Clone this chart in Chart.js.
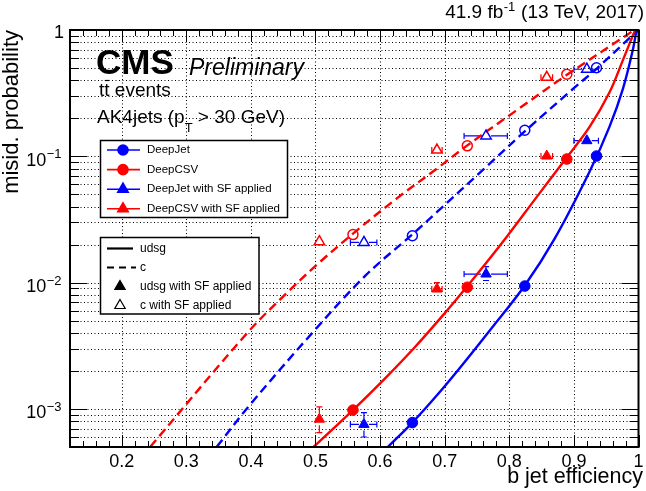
<!DOCTYPE html>
<html><head><meta charset="utf-8">
<script src="https://cdn.jsdelivr.net/npm/chart.js@4/dist/chart.umd.min.js"></script>
<style>html,body{margin:0;padding:0;background:#fff;overflow:hidden}</style>
</head><body>
<canvas id="c" width="646" height="491"></canvas>
<script>
// ---- axis ticks ----
const xTickValues = [0.2,0.3,0.4,0.5,0.6,0.7,0.8,0.9,1.0];
const xTickLabels = ['0.2','0.3','0.4','0.5','0.6','0.7','0.8','0.9','1'];
const yTickValues = [1e-3,1e-2,1e-1,1];
const yTickExponents = ['\u22123','\u22122','\u22121',''];

// ---- working points (b-jet efficiency, misid. probability) ----
const effDeepJet   = [0.650, 0.824, 0.935];
const udsgDeepJet  = [7.8e-4, 9.4e-3, 0.1005];
const cDeepJet     = [0.0235, 0.161, 0.503];
const effDeepCSV   = [0.558, 0.735, 0.889];
const udsgDeepCSV  = [9.8e-4, 9.2e-3, 0.0952];
const cDeepCSV     = [0.0240, 0.121, 0.446];

// ---- with SF applied ----
const effDeepJetSF    = [0.575, 0.764, 0.920];
const effDeepJetSFLo  = [0.554, 0.730, 0.900];
const effDeepJetSFHi  = [0.595, 0.797, 0.938];
const udsgDeepJetSF   = [7.55e-4, 0.0117, 0.133];
const udsgDeepJetSFLo = [6.0e-4, 0.0104, 0.127];
const udsgDeepJetSFHi = [9.35e-4, 0.0134, 0.139];
const cDeepJetSF      = [0.0208, 0.145, 0.489];
const cDeepJetSFLo    = [0.0201, 0.141, 0.478];
const cDeepJetSFHi    = [0.0215, 0.149, 0.500];

const effDeepCSVSF    = [0.506, 0.688, 0.858];
const effDeepCSVSFLo  = [0.499, 0.680, 0.849];
const effDeepCSVSFHi  = [0.513, 0.696, 0.867];
const udsgDeepCSVSF   = [8.3e-4, 8.9e-3, 0.1005];
const udsgDeepCSVSFLo = [6.5e-4, 7.98e-3, 0.096];
const udsgDeepCSVSFHi = [1.04e-3, 1.0e-2, 0.105];
const cDeepCSVSF      = [0.0211, 0.112, 0.422];
const cDeepCSVSFLo    = [0.0203, 0.108, 0.410];
const cDeepCSVSFHi    = [0.0219, 0.116, 0.434];

// ---- ROC curves ----
const curveDeepCSVudsgX = [0.497,0.558,0.607,0.653,0.699,0.735,0.765,0.797,0.842,0.888,0.924,0.955,0.976,0.991,0.995];
const curveDeepCSVudsgY = [5.0e-4,9.8e-4,1.73e-3,3.05e-3,5.65e-3,9.38e-3,1.449e-2,2.34e-2,4.73e-2,9.65e-2,0.17,0.32,0.58,0.9,1.0];
const curveDeepJetudsgX = [0.612,0.650,0.689,0.724,0.771,0.824,0.870,0.924,0.955,0.976,0.991,0.997];
const curveDeepJetudsgY = [5.0e-4,7.8e-4,1.30e-3,2.13e-3,4.26e-3,9.5e-3,2.22e-2,7.52e-2,0.171,0.344,0.687,1.0];
const curveDeepCSVcX = [0.244,0.395,0.451,0.502,0.559,0.627,0.689,0.734,0.810,0.888,0.981,0.993];
const curveDeepCSVcY = [5.0e-4,4.03e-3,7.87e-3,1.384e-2,2.466e-2,4.69e-2,8.07e-2,0.121,0.229,0.4375,0.906,1.0];
const curveDeepJetcX = [0.347,0.396,0.4965,0.578,0.649,0.689,0.760,0.823,0.899,0.935,0.990,1.0];
const curveDeepJetcY = [5.0e-4,1.04e-3,4.08e-3,1.146e-2,2.39e-2,3.66e-2,7.88e-2,0.156,0.343,0.493,0.9,1.0];

const BLUE = '#0000ff', RED = '#ff0000';
const FONT = '"Liberation Sans", Arial, Helvetica, sans-serif';
const MARK_R = 6;

function pts(xs, ys){ return xs.map((x,i)=>({x:x, y:ys[i]})); }

function markerSet(xs, ys, color, style, filled, r){
  return {type:'scatter', data: pts(xs, ys), showLine:false,
    pointStyle: style, pointRadius: r, pointHoverRadius: r,
    pointBackgroundColor: filled ? color : 'rgba(0,0,0,0)',
    pointBorderColor: color, pointBorderWidth: filled ? 1 : 1.5};
}
function curveSet(xs, ys, color, dashed){
  return {type:'line', data: pts(xs, ys), showLine:true, fill:false,
    borderColor: color, borderWidth: 2.4, borderDash: dashed ? [9,5] : [],
    pointRadius: 0, pointHoverRadius: 0, tension: 0.35};
}

const errorSeries = [
  {x:effDeepJetSF, xl:effDeepJetSFLo, xh:effDeepJetSFHi, y:udsgDeepJetSF, yl:udsgDeepJetSFLo, yh:udsgDeepJetSFHi, c:BLUE},
  {x:effDeepJetSF, xl:effDeepJetSFLo, xh:effDeepJetSFHi, y:cDeepJetSF, yl:cDeepJetSFLo, yh:cDeepJetSFHi, c:BLUE},
  {x:effDeepCSVSF, xl:effDeepCSVSFLo, xh:effDeepCSVSFHi, y:udsgDeepCSVSF, yl:udsgDeepCSVSFLo, yh:udsgDeepCSVSFHi, c:RED},
  {x:effDeepCSVSF, xl:effDeepCSVSFLo, xh:effDeepCSVSFHi, y:cDeepCSVSF, yl:cDeepCSVSFLo, yh:cDeepCSVSFHi, c:RED}
];

const decorations = {
  id:'decorations',
  beforeDraw(chart){
    const ctx = chart.ctx;
    ctx.save(); ctx.fillStyle='#fff'; ctx.fillRect(0,0,chart.width,chart.height); ctx.restore();
  },
  beforeDatasetsDraw(chart){
    const ctx = chart.ctx, a = chart.chartArea, xs = chart.scales.x, ys = chart.scales.y;
    ctx.save();
    ctx.strokeStyle = '#000'; ctx.lineWidth = 1; ctx.setLineDash([1,2.5]);
    xTickValues.forEach(v=>{
      if (v >= xs.max) return;
      const px = Math.round(xs.getPixelForValue(v))+0.5;
      ctx.beginPath(); ctx.moveTo(px,a.top); ctx.lineTo(px,a.bottom); ctx.stroke();
    });
    for (let k=-4;k<=0;k++){
      for (let m=1;m<=9;m++){
        const v = m*Math.pow(10,k);
        if (v <= ys.min || v >= ys.max) continue;
        const py = Math.round(ys.getPixelForValue(v))+0.5;
        ctx.beginPath(); ctx.moveTo(a.left,py); ctx.lineTo(a.right,py); ctx.stroke();
      }
    }
    ctx.setLineDash([]);
    // error bars (only the parts outside the marker)
    const cap = 3;
    errorSeries.forEach(s=>{
      ctx.strokeStyle = s.c; ctx.lineWidth = 1.2;
      s.x.forEach((xv,i)=>{
        const px = xs.getPixelForValue(xv), py = ys.getPixelForValue(s.y[i]);
        const x1 = xs.getPixelForValue(s.xl[i]), x2 = xs.getPixelForValue(s.xh[i]);
        const yLo = ys.getPixelForValue(s.yl[i]), yHi = ys.getPixelForValue(s.yh[i]);
        ctx.beginPath();
        if (px - x1 > MARK_R-1){ ctx.moveTo(x1,py); ctx.lineTo(px-MARK_R+1,py); ctx.moveTo(x1,py-cap); ctx.lineTo(x1,py+cap); }
        if (x2 - px > MARK_R-1){ ctx.moveTo(px+MARK_R-1,py); ctx.lineTo(x2,py); ctx.moveTo(x2,py-cap); ctx.lineTo(x2,py+cap); }
        if (yLo - py > MARK_R){ ctx.moveTo(px,py+MARK_R); ctx.lineTo(px,yLo); ctx.moveTo(px-cap,yLo); ctx.lineTo(px+cap,yLo); }
        if (py - yHi > MARK_R){ ctx.moveTo(px,py-MARK_R); ctx.lineTo(px,yHi); ctx.moveTo(px-cap,yHi); ctx.lineTo(px+cap,yHi); }
        ctx.stroke();
      });
    });
    ctx.restore();
  },
  afterDatasetsDraw(chart){
    const ctx = chart.ctx, a = chart.chartArea, xs = chart.scales.x, ys = chart.scales.y;
    ctx.save();
    ctx.strokeStyle='#000'; ctx.fillStyle='#000';
    // ticks
    ctx.lineWidth = 1;
    for (let i=6;i<=50;i++){
      const v = i/50; if (v < xs.min-1e-9 || v > xs.max+1e-9) continue;
      const px = Math.round(xs.getPixelForValue(v))+0.5;
      const L = (i%5===0) ? 12 : 6;
      ctx.beginPath();
      ctx.moveTo(px,a.bottom); ctx.lineTo(px,a.bottom-L);
      ctx.moveTo(px,a.top); ctx.lineTo(px,a.top+L);
      ctx.stroke();
    }
    for (let k=-4;k<=0;k++){
      for (let m=1;m<=9;m++){
        const v = m*Math.pow(10,k);
        if (v < ys.min || v > ys.max) continue;
        const py = Math.round(ys.getPixelForValue(v))+0.5;
        const L = (m===1) ? 17 : 9;
        ctx.beginPath();
        ctx.moveTo(a.left,py); ctx.lineTo(a.left+L,py);
        ctx.moveTo(a.right,py); ctx.lineTo(a.right-L,py);
        ctx.stroke();
      }
    }
    // frame
    ctx.lineWidth = 2;
    ctx.strokeRect(a.left, a.top, a.right-a.left, a.bottom-a.top);
    // x tick labels
    ctx.font = '18px '+FONT; ctx.textAlign='center'; ctx.textBaseline='alphabetic';
    xTickValues.forEach((v,i)=>{
      ctx.fillText(xTickLabels[i], xs.getPixelForValue(v), 467);
    });
    // y tick labels
    yTickValues.forEach((v,i)=>{
      const py = ys.getPixelForValue(v);
      const ex = yTickExponents[i];
      ctx.textAlign='left';
      if (!ex){
        ctx.font='18px '+FONT;
        const w = ctx.measureText('1').width;
        ctx.fillText('1', 64-w, py+8);
      } else {
        ctx.font='18px '+FONT;
        const wb = ctx.measureText('10').width;
        ctx.font='13px '+FONT;
        const we = ctx.measureText(ex).width;
        const x0 = 61 - wb - we;
        ctx.font='18px '+FONT; ctx.fillText('10', x0, py+9.5);
        ctx.font='13px '+FONT; ctx.fillText(ex, x0+wb+0.5, py+2);
      }
    });
    // axis titles
    ctx.font='21.5px '+FONT; ctx.textAlign='right';
    ctx.fillText('b jet efficiency', 643, 483);
    ctx.save();
    ctx.translate(18, 30); ctx.rotate(-Math.PI/2);
    ctx.font='22px '+FONT; ctx.textAlign='right';
    ctx.fillText('misid. probability', 0, 0);
    ctx.restore();
    // top-right luminosity label
    {
      const t1='41.9 fb', sup='-1', t2=' (13 TeV, 2017)';
      ctx.textAlign='left';
      ctx.font='19px '+FONT; const w1=ctx.measureText(t1).width, w3=ctx.measureText(t2).width;
      ctx.font='13px '+FONT; const w2=ctx.measureText(sup).width;
      const x0 = 644 - (w1+w2+w3+1);
      ctx.font='19px '+FONT; ctx.fillText(t1, x0, 18);
      ctx.font='13px '+FONT; ctx.fillText(sup, x0+w1+0.5, 11);
      ctx.font='19px '+FONT; ctx.fillText(t2, x0+w1+w2+1, 18);
    }
    // CMS Preliminary
    ctx.textAlign='left';
    ctx.font='bold 35px '+FONT; ctx.fillText('CMS', 96, 74);
    ctx.font='italic 23px '+FONT; ctx.fillText('Preliminary', 189, 75);
    // tt events
    ctx.font='19px '+FONT; ctx.fillText('tt events', 99, 96);
    {
      const wt = ctx.measureText('t').width;
      ctx.lineWidth=1.2; ctx.beginPath();
      ctx.moveTo(99+wt+0.5, 80.5); ctx.lineTo(99+2*wt-0.2, 80.5); ctx.stroke();
    }
    // AK4jets (pT > 30 GeV)
    {
      ctx.font='19px '+FONT;
      const s1='AK4jets (p'; ctx.fillText(s1, 97, 123);
      const w1 = ctx.measureText(s1).width;
      ctx.font='13px '+FONT; ctx.fillText('T', 97+w1, 132);
      const w2 = ctx.measureText('T').width;
      ctx.font='19px '+FONT; ctx.fillText(' > 30 GeV)', 97+w1+w2, 123);
    }
    // legend 1
    ctx.fillStyle='#fff'; ctx.fillRect(100,140,188,78);
    ctx.lineWidth=1.5; ctx.strokeStyle='#000'; ctx.strokeRect(100.5,140.5,187,77);
    const leg1 = [
      {t:'DeepJet', c:BLUE, s:'circle'},
      {t:'DeepCSV', c:RED, s:'circle'},
      {t:'DeepJet with SF applied', c:BLUE, s:'triangle'},
      {t:'DeepCSV with SF applied', c:RED, s:'triangle'}
    ];
    leg1.forEach((e,i)=>{
      const y = 150 + i*19.6;
      ctx.strokeStyle=e.c; ctx.lineWidth=1.6;
      ctx.beginPath(); ctx.moveTo(107,y); ctx.lineTo(140,y); ctx.stroke();
      ctx.fillStyle=e.c;
      Chart.helpers.drawPoint(ctx, {pointStyle:e.s, radius: e.s==='circle'?5:6, borderWidth:1}, 123, y);
      ctx.fill();
      ctx.fillStyle='#000'; ctx.font='11.5px '+FONT; ctx.textBaseline='middle';
      ctx.fillText(e.t, 147, y);
      ctx.textBaseline='alphabetic';
    });
    // legend 2
    ctx.fillStyle='#fff'; ctx.fillRect(100,237,159,77);
    ctx.lineWidth=1.5; ctx.strokeStyle='#000'; ctx.strokeRect(100.5,237.5,158.5,76.5);
    ctx.strokeStyle='#000'; ctx.lineWidth=2.2;
    ctx.beginPath(); ctx.moveTo(107,248.5); ctx.lineTo(133,248.5); ctx.stroke();
    ctx.setLineDash([7,5]);
    ctx.beginPath(); ctx.moveTo(107,267.5); ctx.lineTo(136,267.5); ctx.stroke();
    ctx.setLineDash([]);
    ctx.fillStyle='#000'; ctx.strokeStyle='#000'; ctx.lineWidth=1.2;
    Chart.helpers.drawPoint(ctx, {pointStyle:'triangle', radius:6, borderWidth:1}, 120, 286.5);
    ctx.fill();
    ctx.fillStyle='rgba(0,0,0,0)';
    Chart.helpers.drawPoint(ctx, {pointStyle:'triangle', radius:6, borderWidth:1.2}, 120, 305.5);
    ctx.fillStyle='#000'; ctx.font='12px '+FONT; ctx.textBaseline='middle';
    ctx.fillText('udsg', 140, 248.5);
    ctx.fillText('c', 140, 267.5);
    ctx.fillText('udsg with SF applied', 140, 286.5);
    ctx.fillText('c with SF applied', 140, 305.5);
    ctx.restore();
  }
};

new Chart(document.getElementById('c'), {
  type:'scatter',
  data:{ datasets:[
    markerSet(effDeepJet, udsgDeepJet, BLUE, 'circle', true, 5.3),
    markerSet(effDeepCSV, udsgDeepCSV, RED, 'circle', true, 5.3),
    markerSet(effDeepJet, cDeepJet, BLUE, 'circle', false, 5),
    markerSet(effDeepCSV, cDeepCSV, RED, 'circle', false, 5),
    markerSet(effDeepJetSF, udsgDeepJetSF, BLUE, 'triangle', true, MARK_R),
    markerSet(effDeepCSVSF, udsgDeepCSVSF, RED, 'triangle', true, MARK_R),
    markerSet(effDeepJetSF, cDeepJetSF, BLUE, 'triangle', false, MARK_R),
    markerSet(effDeepCSVSF, cDeepCSVSF, RED, 'triangle', false, MARK_R),
    curveSet(curveDeepJetudsgX, curveDeepJetudsgY, BLUE, false),
    curveSet(curveDeepCSVudsgX, curveDeepCSVudsgY, RED, false),
    curveSet(curveDeepJetcX, curveDeepJetcY, BLUE, true),
    curveSet(curveDeepCSVcX, curveDeepCSVcY, RED, true)
  ]},
  options:{
    responsive:false, animation:false, devicePixelRatio:1,
    layout:{padding:{left:70, top:30, right:3, bottom:44}},
    plugins:{legend:{display:false}, tooltip:{enabled:false}},
    scales:{
      x:{type:'linear', min:0.12, max:1.0, display:false},
      y:{type:'logarithmic', min:5e-4, max:1.0, display:false}
    }
  },
  plugins:[decorations]
});
</script>
</body></html>
